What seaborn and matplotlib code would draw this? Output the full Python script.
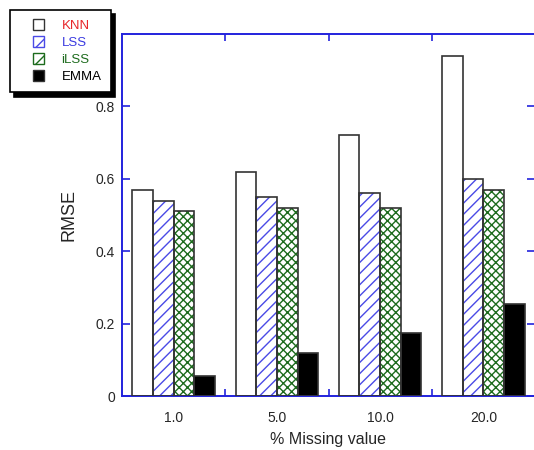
import matplotlib
matplotlib.use("Agg")
import matplotlib.pyplot as plt
from matplotlib.patches import Patch, Rectangle
from matplotlib.legend_handler import HandlerPatch
from matplotlib.ticker import FixedLocator
import seaborn as sns
import pandas as pd

missing = ["1.0", "5.0", "10.0", "20.0"]
methods = ["KNN", "LSS", "iLSS", "EMMA"]
knn = [0.57, 0.62, 0.72, 0.94]
lss = [0.54, 0.55, 0.56, 0.60]
ilss = [0.51, 0.52, 0.52, 0.57]
emma = [0.055, 0.12, 0.175, 0.255]

rows = []
for m, vals in zip(methods, [knn, lss, ilss, emma]):
    for c, v in zip(missing, vals):
        rows.append({"missing": c, "method": m, "rmse": v})
df = pd.DataFrame(rows)

sns.set_style("white")
plt.rcParams["font.family"] = ["Liberation Sans", "DejaVu Sans"]
plt.rcParams["hatch.linewidth"] = 1.0

blue = "#2222dd"
face = {"KNN": "white", "LSS": "white", "iLSS": "white", "EMMA": "black"}
hatch = {"KNN": "", "LSS": "///", "iLSS": "xxxx", "EMMA": ""}
hatch_col = {"KNN": "#333333", "LSS": "#4a4ae6", "iLSS": "#1d6b1d", "EMMA": "black"}
text_col = {"KNN": "#e8262a", "LSS": "#3a3ae0", "iLSS": "#1d6b1d", "EMMA": "black"}

fig = plt.figure(figsize=(5.34, 4.5), dpi=100)
ax = fig.add_axes([122 / 534, 1 - 396 / 450, 413 / 534, 362 / 450])

sns.barplot(data=df, x="missing", y="rmse", hue="method", hue_order=methods,
            order=missing, palette=face, width=0.8, gap=0, legend=False,
            ax=ax, saturation=1)

# hatch drawn in the series colour, outline in dark grey on top
for container, m in zip(ax.containers, methods):
    for bar in container:
        bar.set_hatch(hatch[m])
        bar.set_edgecolor(hatch_col[m])
        bar.set_linewidth(0)
        ax.add_patch(Rectangle((bar.get_x(), bar.get_y()), bar.get_width(),
                               bar.get_height(), fill=False,
                               edgecolor="#333333", linewidth=1.2, zorder=3))

ax.set_xlim(-0.5, 3.5)
ax.set_ylim(0, 1.0)
ax.set_yticks([0, 0.2, 0.4, 0.6, 0.8])
ax.set_yticklabels(["0", "0.2", "0.4", "0.6", "0.8"], fontsize=10)
ax.tick_params(axis="x", which="major", length=0, labelsize=10, pad=11)
ax.xaxis.set_minor_locator(FixedLocator([0.5, 1.5, 2.5]))
ax.tick_params(axis="x", which="minor", direction="in", length=5, width=1.2,
               color=blue, top=True, bottom=True)
ax.tick_params(axis="y", which="major", direction="in", length=6, width=1.2,
               color=blue, left=True, right=True, pad=5)

for s in ax.spines.values():
    s.set_visible(True)
    s.set_color(blue)
    s.set_linewidth(1.4)

ax.set_xlabel("% Missing value", fontsize=11.5, labelpad=5)
ax.set_ylabel("RMSE", fontsize=13, labelpad=13)


def square_key(legend, orig_handle, xdescent, ydescent, width, height, fontsize):
    side = height
    return Rectangle((-xdescent + width - side, -ydescent), side, side)


handles = [Patch(facecolor=face[m],
                 edgecolor=hatch_col[m] if m in ("LSS", "iLSS") else "#333333",
                 hatch={"LSS": "//", "iLSS": "x"}.get(m, ""), linewidth=1)
           for m in methods]
leg = fig.legend(handles, methods, loc="upper left",
                 bbox_to_anchor=(10 / 534, 1 - 10 / 450), fontsize=9.5,
                 handlelength=1.9, handleheight=0.9, handletextpad=1.3,
                 borderpad=0.7, labelspacing=0.3, borderaxespad=0,
                 fancybox=False, edgecolor="black", framealpha=1,
                 handler_map={Patch: HandlerPatch(patch_func=square_key)},
                 shadow={"color": "black", "alpha": 1, "ox": 3, "oy": -3})
leg.get_frame().set_linewidth(1.2)
for t, m in zip(leg.get_texts(), methods):
    t.set_color(text_col[m])

fig.savefig("out.png", dpi=100)
